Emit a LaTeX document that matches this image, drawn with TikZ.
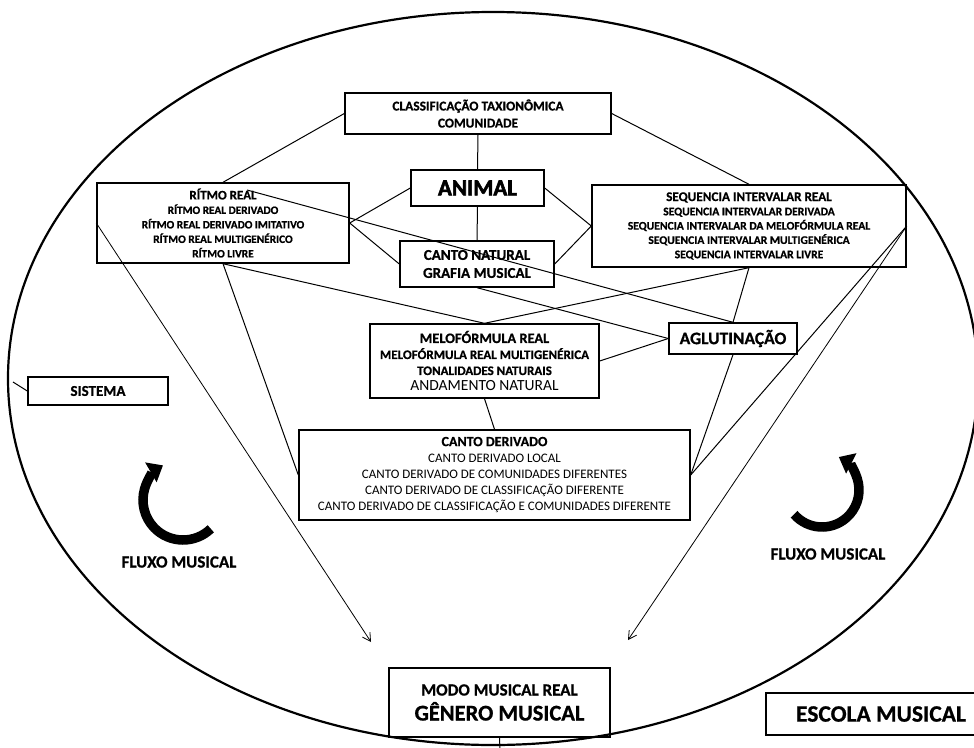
\documentclass[tikz,border=0pt]{standalone}
\usepackage{fontspec}
\setmainfont{Carlito}[BoldFeatures={FakeBold=0.8}]
\newfontfamily\heavyfont{Carlito}[FakeBold=2.5]
\usetikzlibrary{arrows.meta}

\begin{document}
\begin{tikzpicture}[x=1pt, y=-1pt,
  box/.style={draw, line width=1.4pt, align=center, inner sep=0pt},
  link/.style={line width=1pt},
  flow/.style={line width=0.8pt, -{Straight Barb[length=8pt, width=9pt]}},
  turn/.style={line width=9.5pt, -{Triangle[length=14pt, width=22pt]}}]

  \useasboundingbox (0,0) rectangle (974,747);
  \fill[white] (0,0) rectangle (974,747);

  % Outer oval
  \draw[line width=2.2pt] (493,378.5) ellipse [x radius=485, y radius=366.5];

  % Top of the scheme
  \node[box, minimum width=266pt, minimum height=41pt,
    font=\bfseries\fontsize{13.4}{17}\selectfont] (tax) at (478,113.5)
    {CLASSIFICAÇÃO TAXIONÔMICA\\ COMUNIDADE};
  \node[box, minimum width=133pt, minimum height=36pt,
    font=\heavyfont\bfseries\fontsize{23}{26}\selectfont] (animal) at (477.5,188) {ANIMAL};

  % Left and right blocks
  \node[box, minimum width=252pt, minimum height=80pt,
    font=\bfseries\fontsize{11.3}{14.5}\selectfont] (ritmo) at (223,223)
    {{\fontsize{13}{14.5}\selectfont RÍTMO REAL}\\
     RÍTMO REAL DERIVADO\\ RÍTMO REAL DERIVADO IMITATIVO\\
     RÍTMO REAL MULTIGENÉRICO\\ RÍTMO LIVRE};
  \node[box, minimum width=314pt, minimum height=82pt,
    font=\bfseries\fontsize{11.6}{14.3}\selectfont] (seq) at (749,226)
    {{\fontsize{13.2}{14.3}\selectfont SEQUENCIA INTERVALAR REAL}\\
     SEQUENCIA INTERVALAR DERIVADA\\ SEQUENCIA INTERVALAR DA MELOFÓRMULA REAL\\
     SEQUENCIA INTERVALAR MULTIGENÉRICA\\ SEQUENCIA INTERVALAR LIVRE};
  \node[box, minimum width=154pt, minimum height=46pt,
    font=\bfseries\fontsize{15}{18}\selectfont] (cnat) at (477,264)
    {CANTO NATURAL\\ GRAFIA MUSICAL};

  % Middle blocks
  \node[box, minimum width=229pt, minimum height=74pt,
    font=\bfseries\fontsize{13}{16}\selectfont] (melo) at (484.5,361)
    {{\fontsize{14.4}{16}\selectfont MELOFÓRMULA REAL}\\
     MELOFÓRMULA REAL MULTIGENÉRICA\\ TONALIDADES NATURAIS\\
     {\mdseries\fontsize{15.5}{16}\selectfont ANDAMENTO NATURAL}};
  \node[box, minimum width=128pt, minimum height=31pt,
    font=\bfseries\fontsize{17.5}{20}\selectfont] (aglu) at (733,338.5) {AGLUTINAÇÃO};
  \node[box, minimum width=391pt, minimum height=90pt,
    font=\fontsize{13}{16.2}\selectfont] (cder) at (494.5,475)
    {{\bfseries\fontsize{14}{16.2}\selectfont CANTO DERIVADO}\\
     CANTO DERIVADO LOCAL\\ CANTO DERIVADO DE COMUNIDADES DIFERENTES\\
     CANTO DERIVADO DE CLASSIFICAÇÃO DIFERENTE\\
     CANTO DERIVADO DE CLASSIFICAÇÃO E COMUNIDADES DIFERENTE};

  % Outside blocks
  \node[box, minimum width=140pt, minimum height=28pt,
    font=\bfseries\fontsize{15}{17}\selectfont] (sist) at (98,391) {SISTEMA};
  \node[box, minimum width=221pt, minimum height=69pt,
    font=\bfseries\fontsize{17}{25}\selectfont] (modo) at (499.5,702.5)
    {MODO MUSICAL REAL\\ {\fontsize{22.5}{25}\selectfont GÊNERO MUSICAL}};
  \node[box, minimum width=230pt, minimum height=42pt,
    font=\bfseries\fontsize{23.5}{26}\selectfont] (escola) at (881,714) {ESCOLA MUSICAL};

  % Free ends
  \coordinate (ritmoline) at (247,190);
  \coordinate (ovalpt) at (13,382);
  \coordinate (ltip) at (371,642);
  \coordinate (rtip) at (628,640);
  \coordinate (modoend) at (500,750);
  \coordinate (lcurl) at (183,500);
  \coordinate (rcurl) at (822,490);

  % Links
  \draw[link] (tax.west) -- (ritmo.north);
  \draw[link] (tax.east) -- (seq.north);
  \draw[link] (tax.south) -- (animal.north);
  \draw[link] (animal.south) -- (cnat.north);
  \draw[link] (animal.west) -- (ritmo.east);
  \draw[link] (animal.east) -- (seq.west);
  \draw[link] (ritmo.east) -- (cnat.west);
  \draw[link] (cnat.east) -- (seq.west);
  \draw[link] (ritmoline) -- (aglu.north);
  \draw[link] (cnat.south) -- (aglu.west);
  \draw[link] (ritmo.south) -- (melo.north);
  \draw[link] (seq.south) -- (melo.north);
  \draw[link] (seq.south) -- (aglu.north);
  \draw[link] (melo.east) -- (aglu.west);
  \draw[link] (melo.south) -- (cder.north);
  \draw[link] (ritmo.south) -- (cder.west);
  \draw[link] (aglu.south) -- (cder.east);
  \draw[link] (seq.east) -- (cder.east);
  \draw[link] (ovalpt) -- (sist.west);
  \draw[link] (modo.south) -- (modoend);

  % Arrows down to the mode
  \draw[flow] (ritmo.west) -- (ltip);
  \draw[flow] (seq.east) -- (rtip);

  % Musical flow
  \draw[turn] (lcurl) ++(46:40) arc[start angle=46, end angle=240, radius=40];
  \draw[turn] (rcurl) ++(139:37) arc[start angle=139, end angle=-63, radius=37];
  \node[font=\bfseries\fontsize{17}{19}\selectfont] (lflux) at (179,562) {FLUXO MUSICAL};
  \node[font=\bfseries\fontsize{17}{19}\selectfont] (rflux) at (828,554) {FLUXO MUSICAL};

\end{tikzpicture}
\end{document}
